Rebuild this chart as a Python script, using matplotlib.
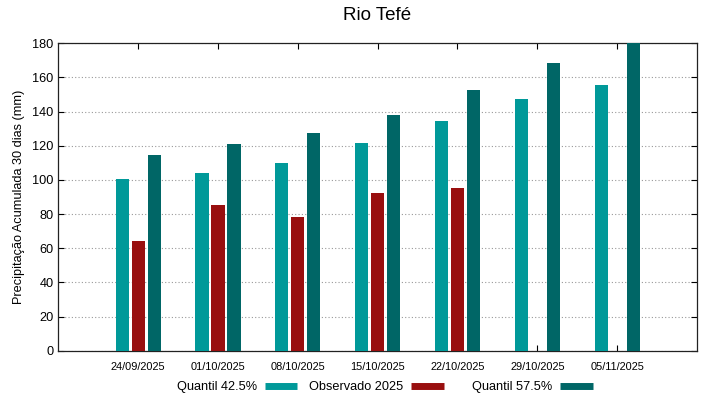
import numpy as np
import matplotlib
matplotlib.use("Agg")
import matplotlib.pyplot as plt
from matplotlib.lines import Line2D

plt.rcParams['font.family'] = ['Liberation Sans', 'DejaVu Sans']

datas = ["24/09/2025", "01/10/2025", "08/10/2025", "15/10/2025",
         "22/10/2025", "29/10/2025", "05/11/2025"]
quantil_425 = [100.5, 103.9, 109.9, 121.6, 134.3, 147.4, 155.4]
observado_2025 = [64.2, 85.3, 78.3, 92.1, 95.4, np.nan, np.nan]
quantil_575 = [114.6, 120.8, 127.6, 138.0, 152.4, 168.4, 181.0]
labels = ["Quantil 42.5%", "Observado 2025", "Quantil 57.5%"]

c_light = "#009999"
c_red = "#990f0f"
c_dark = "#006666"

fig = plt.figure(figsize=(7.19, 3.99), dpi=100)
ax = fig.add_axes([58.3/719, 1-350.7/399, (697-58.3)/719, (350.7-43.3)/399])

x = np.arange(len(datas))
w = 0.165
off = 0.2
ax.bar(x - off, quantil_425, w, color=c_light, zorder=3)
ax.bar(x, observado_2025, w, color=c_red, zorder=3)
ax.bar(x + off, quantil_575, w, color=c_dark, zorder=3)

ax.set_xlim(-1, 7)
ax.set_ylim(0, 180)
ax.set_yticks(np.arange(0, 181, 20))
ax.set_xticks(x)
ax.set_xticklabels(datas, fontsize=7.9)
ax.tick_params(axis='y', labelsize=9.2, direction='in', length=4, right=True, width=0.8)
ax.tick_params(axis='x', direction='in', length=4, top=True, pad=8, width=0.8)
ax.yaxis.grid(True, linestyle=(0, (1, 2)), color='#999999', linewidth=0.8, zorder=0)
for s in ax.spines.values():
    s.set_linewidth(0.9)
    s.set_color('#222222')

ax.set_ylabel("Precipitação Acumulada 30 dias (mm)", fontsize=9.2, labelpad=5)
fig.text(377/719, 1-16/399, "Rio Tefé", fontsize=13.5, ha='center', va='center')

colors = [c_light, c_red, c_dark]
starts = [177, 309, 472]
for lab, col, sx in zip(labels, colors, starts):
    leg = fig.legend([Line2D([], [], color=col, lw=5, solid_capstyle='butt')], [lab],
                     loc='center left',
                     bbox_to_anchor=(sx/719, 1-387/399), frameon=False,
                     markerfirst=False, fontsize=9.2, handlelength=2.55,
                     handletextpad=0.6, borderpad=0, borderaxespad=0)

fig.savefig("out.png", dpi=100)
